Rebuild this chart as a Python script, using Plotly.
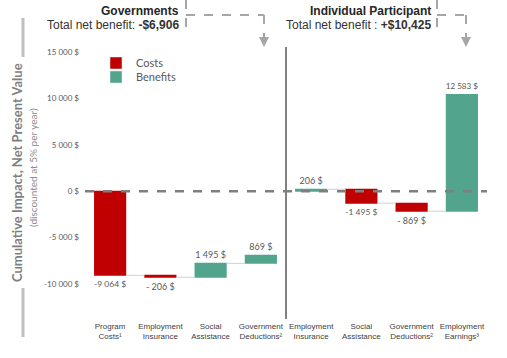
import plotly.graph_objects as go

# ---------------- data ----------------
gov_categories = ["Program<br>Costs¹", "Employment<br>Insurance", "Social<br>Assistance", "Government<br>Deductions²"]
gov_values = [-9064, -206, 1495, 869]
ind_categories = ["Employment<br>Insurance", "Social<br>Assistance", "Government<br>Deductions²", "Employment<br>Earnings³"]
ind_values = [206, -1495, -869, 12583]
y_ticks = [-10000, -5000, 0, 5000, 10000, 15000]
gov_total_label = "-$6,906"
ind_total_label = "+$10,425"
legend_names = ["Costs", "Benefits"]

RED = "#C00000"
GREEN = "#52A48D"
GRAY_TXT = "#595959"


def money(v):
    s = f"{abs(v):,}".replace(",", " ") + " $"
    if v < 0:
        return ("- " if abs(v) < 1000 else "-") + s
    return s


W, H = 507, 358
L, R, T, B = 85, 20, 47, 46
PW, PH = W - L - R, H - T - B


def px_x(p):
    return (p - L) / PW


def px_y(p):
    return (H - B - p) / PH


n_gov = len(gov_categories)
gov_x = list(range(n_gov))
ind_x = list(range(n_gov, n_gov + len(ind_categories)))

fig = go.Figure()

common = dict(
    orientation="v",
    measure=["relative"] * 4,
    width=0.64,
    textposition="outside",
    textfont=dict(family="Lato", size=9, color=GRAY_TXT),
    increasing=dict(marker=dict(color=GREEN)),
    decreasing=dict(marker=dict(color=RED)),
    connector=dict(line=dict(color="#d0d0d0", width=1)),
    showlegend=False,
    cliponaxis=False,
)

fig.add_trace(go.Waterfall(x=gov_x, y=gov_values, text=[money(v) for v in gov_values], **common))
fig.add_trace(go.Waterfall(x=ind_x, y=ind_values, text=[money(v) for v in ind_values], **common))

# legend entries (one legend box per entry for tight spacing)
fig.add_trace(go.Bar(x=[None], y=[None], name=legend_names[0], marker_color=RED, legend="legend"))
fig.add_trace(go.Bar(x=[None], y=[None], name=legend_names[1], marker_color=GREEN, legend="legend2"))

y_top = 15000 + 5 / 9.28 * 1000
y_bot = y_top - PH / 9.28 * 1000

leg_common = dict(xanchor="left", yanchor="middle",
                  font=dict(family="Lato", size=11, color=GRAY_TXT),
                  bgcolor="rgba(0,0,0,0)", borderwidth=0)

fig.update_layout(
    width=W,
    height=H,
    margin=dict(l=L, r=R, t=T, b=B),
    plot_bgcolor="white",
    paper_bgcolor="white",
    barmode="overlay",
    legend=dict(x=px_x(96), y=px_y(63), **leg_common),
    legend2=dict(x=px_x(96), y=px_y(77), **leg_common),
    xaxis=dict(
        range=[-0.5, 7.5],
        tickvals=gov_x + ind_x,
        ticktext=gov_categories + ind_categories,
        tickfont=dict(family="Liberation Sans", size=8, color="#404040"),
        showgrid=False, zeroline=False, showline=False, ticks="",
        ticklabelstandoff=8,
    ),
    yaxis=dict(
        range=[y_bot, y_top],
        tickvals=y_ticks,
        ticktext=[money(v) if v >= 0 else "-" + money(-v) for v in y_ticks],
        tickfont=dict(family="Lato", size=8, color=GRAY_TXT),
        showgrid=False, zeroline=False, showline=False, ticks="",
        ticklabelstandoff=5,
    ),
)

shapes = []
# zero dashed line
shapes.append(dict(type="line", xref="paper", yref="y", x0=0, x1=1, y0=0, y1=0,
                   line=dict(color="#7f7f7f", width=2.5, dash="dash"), layer="above"))
# group divider
shapes.append(dict(type="line", xref="x", yref="paper", x0=n_gov - 0.5, x1=n_gov - 0.5,
                   y0=px_y(319), y1=px_y(47), line=dict(color="#808080", width=2)))
# left brackets
for a, b in [(18, 57), (288, 337)]:
    shapes.append(dict(type="line", xref="paper", yref="paper", x0=px_x(23), x1=px_x(23),
                       y0=px_y(a), y1=px_y(b), line=dict(color="#bfbfbf", width=3)))
# dashed arrows
ARROW = "#a6a6a6"
for xv, xa, yv_end in [(186, 264, 35), (437, 466, 32)]:
    shapes.append(dict(type="line", xref="paper", yref="paper", x0=px_x(xv), x1=px_x(xv),
                       y0=px_y(0), y1=px_y(yv_end), line=dict(color=ARROW, width=2, dash="dash")))
    shapes.append(dict(type="line", xref="paper", yref="paper", x0=px_x(xv), x1=px_x(xa),
                       y0=px_y(15), y1=px_y(15), line=dict(color=ARROW, width=2, dash="dash")))
    shapes.append(dict(type="line", xref="paper", yref="paper", x0=px_x(xa), x1=px_x(xa),
                       y0=px_y(15), y1=px_y(38), line=dict(color=ARROW, width=2, dash="dash")))
    path = (f"M {px_x(xa-5)},{px_y(37)} L {px_x(xa+5)},{px_y(37)} L {px_x(xa)},{px_y(47)} Z")
    shapes.append(dict(type="path", xref="paper", yref="paper", path=path,
                       fillcolor=ARROW, line=dict(color=ARROW, width=0)))
fig.update_layout(shapes=shapes)

ann = []
TF = "Liberation Sans"
for xr, title, total in [(181, "Governments", f"Total net benefit: <b>{gov_total_label}</b>"),
                         (433, "Individual Participant", f"Total net benefit : <b>{ind_total_label}</b>")]:
    ann.append(dict(xref="paper", yref="paper", x=px_x(xr), y=px_y(11), xanchor="right", yanchor="middle",
                    text=f"<b>{title}</b>", showarrow=False, font=dict(family=TF, size=12, color="#262626")))
    ann.append(dict(xref="paper", yref="paper", x=px_x(xr), y=px_y(25), xanchor="right", yanchor="middle",
                    text=total, showarrow=False, font=dict(family=TF, size=12, color="#333333")))
# y-axis titles
ann.append(dict(xref="paper", yref="paper", x=px_x(17), y=px_y(173), xanchor="center", yanchor="middle",
                text="Cumulative Impact, Net Present Value", textangle=-90, showarrow=False,
                font=dict(family="Lato", size=13, color="#7f7f7f", weight="bold")))
ann.append(dict(xref="paper", yref="paper", x=px_x(33), y=px_y(168), xanchor="center", yanchor="middle",
                text="(discounted at 5% per year)", textangle=-90, showarrow=False,
                font=dict(family="Lato", size=10, color="#8c8c8c")))
fig.update_layout(annotations=ann)

fig.write_html("out.html", config={"displayModeBar": False},
               post_script="document.body.style.margin='0';document.body.style.padding='0';")
